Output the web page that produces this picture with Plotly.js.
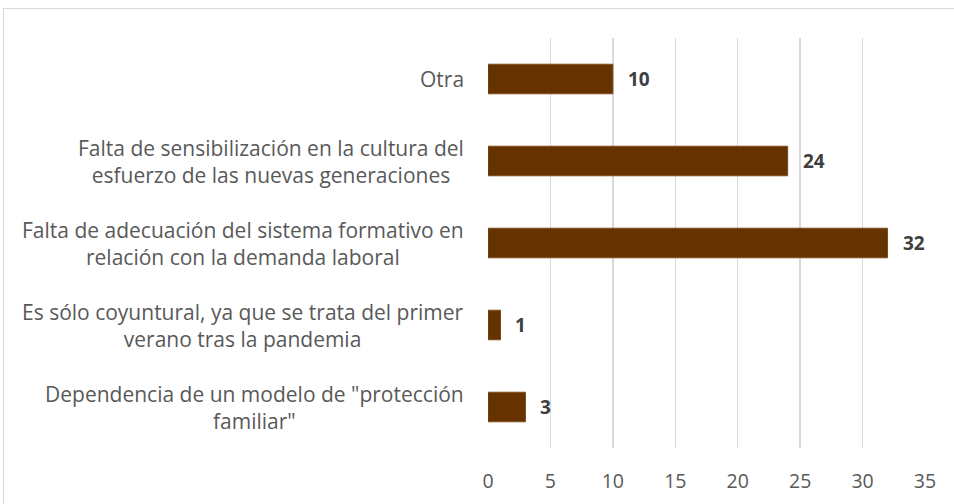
<!DOCTYPE html>
<html>
<head>
<meta charset="utf-8">
<script src="https://cdn.plot.ly/plotly-3.0.1.min.js"></script>
<style>
html,body{margin:0;padding:0;background:#fff;}
#wrap{position:relative;width:954px;height:504px;}
#chart{width:954px;height:504px;}
#frame{position:absolute;left:3px;top:8px;width:960px;height:520px;border:1.5px solid #d9d9d9;pointer-events:none;box-sizing:border-box;}
</style>
</head>
<body>
<div id="wrap"><div id="chart"></div><div id="frame"></div></div>
<script>
const categories = [
  'Dependencia de un modelo de "protección<br>familiar"',
  'Es sólo coyuntural, ya que se trata del primer<br>verano tras la pandemia',
  'Falta de adecuación del sistema formativo en<br>relación con la demanda laboral',
  'Falta de sensibilización en la cultura del<br>esfuerzo de las nuevas generaciones',
  'Otra'
];
const values = [3, 1, 32, 24, 10];
const tickValues = [0, 5, 10, 15, 20, 25, 30, 35];

const FONT = '"Open Sans", Lato, sans-serif';

const trace = {
  type: 'bar',
  orientation: 'h',
  x: values,
  y: categories,
  marker: {color: '#663300', line: {color: '#7a4a1a', width: 1}},
  width: 0.36,
  hoverinfo: 'x+y'
};

const annotations = [];
categories.forEach((c, i) => {
  annotations.push({
    x: 0, xref: 'paper', y: c, yref: 'y',
    text: c, showarrow: false, xanchor: 'right', yanchor: 'middle',
    xshift: -22, align: 'center',
    font: {family: FONT, size: 21, color: '#595959'}
  });
  annotations.push({
    x: values[i], xref: 'x', y: c, yref: 'y',
    text: '<b>' + values[i] + '</b>', showarrow: false, xanchor: 'left', yanchor: 'middle',
    xshift: 13, font: {family: FONT, size: 19, color: '#404040'}
  });
});

const layout = {
  width: 954, height: 504,
  margin: {l: 488, r: 29, t: 38, b: 56},
  paper_bgcolor: '#ffffff', plot_bgcolor: '#ffffff',
  showlegend: false,
  xaxis: {
    range: [0, 35], tickvals: tickValues, ticktext: tickValues.map(String),
    showgrid: true, gridcolor: '#d9d9d9', gridwidth: 1.5,
    zeroline: false, showline: false, ticks: '',
    tickfont: {family: FONT, size: 19.5, color: '#595959'},
    ticklabelstandoff: 19
  },
  yaxis: {
    type: 'category', categoryorder: 'array', categoryarray: categories,
    showticklabels: false, showgrid: false, zeroline: false, showline: false, ticks: ''
  },
  annotations: annotations
};

Plotly.newPlot('chart', [trace], layout, {displayModeBar: false, staticPlot: true});
</script>
</body>
</html>
